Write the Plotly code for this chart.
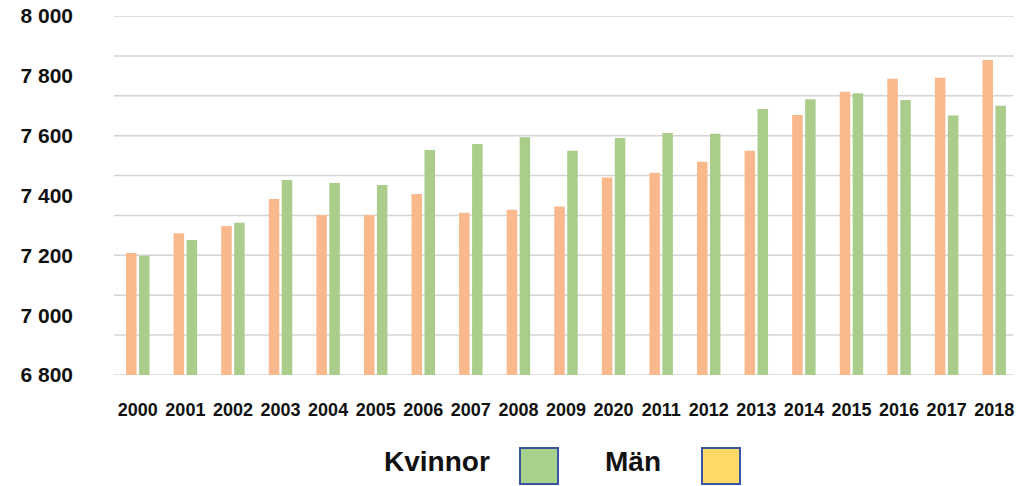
import plotly.graph_objects as go

years = ["2000", "2001", "2002", "2003", "2004", "2005", "2006", "2007", "2008", "2009",
         "2020", "2011", "2012", "2013", "2014", "2015", "2016", "2017", "2018"]
man = [7208, 7274, 7298, 7388, 7335, 7335, 7405, 7342, 7352, 7363,
       7460, 7476, 7513, 7550, 7669, 7747, 7790, 7794, 7853]
kvinnor = [7199, 7251, 7309, 7452, 7442, 7435, 7552, 7572, 7595, 7550,
           7592, 7609, 7606, 7689, 7722, 7742, 7719, 7667, 7700]
y_label_vals = [6800, 7000, 7200, 7400, 7600, 7800, 8000]
y_label_text = ["6 800", "7 000", "7 200", "7 400", "7 600", "7 800", "8 000"]
y_min, y_max, n_grid = 6800, 8000, 9
grid_vals = [y_min + i * (y_max - y_min) / n_grid for i in range(n_grid + 1)]

# the page body margin is removed (see post_script), so the figure fills the window
W, H = 1021, 486
plot_left, plot_right, plot_top, plot_bottom = 114, 1018, 16, 375
ml, mr, mt, mb = plot_left, W - plot_right, plot_top, H - plot_bottom
pw, ph = W - ml - mr, H - mt - mb

def px(x):
    return (x - plot_left) / pw

def py(y):
    return (plot_bottom - y) / ph

fig = go.Figure()
fig.add_trace(go.Bar(x=years, y=man, name="Män", marker_color="#F9B98C", marker_line_width=0))
fig.add_trace(go.Bar(x=years, y=kvinnor, name="Kvinnor", marker_color="#AACD8C", marker_line_width=0))

font_fam = "Liberation Sans, Arial, sans-serif"
fig.update_layout(
    width=W, height=H,
    margin=dict(l=ml, r=mr, t=mt, b=mb, autoexpand=False),
    paper_bgcolor="white", plot_bgcolor="white",
    barmode="group", bargap=0.455, bargroupgap=0.19,
    showlegend=False,
    font=dict(family=font_fam, color="#111111"),
    xaxis=dict(showgrid=False, showline=False, ticks="", ticklabelstandoff=22, automargin=False,
               ticklabeloverflow="allow",
               tickfont=dict(size=18, family=font_fam, weight="bold", color="#111111")),
    yaxis=dict(range=[y_min, y_max], tickmode="array", tickvals=y_label_vals, ticktext=y_label_text,
               showgrid=False, zeroline=False, showline=False, ticks="", ticklabelstandoff=40,
               automargin=False, ticklabeloverflow="allow",
               tickfont=dict(size=21, family=font_fam, weight="bold", color="#111111")),
)

# horizontal gridlines (9 equal intervals across the value range)
for gv in grid_vals:
    fig.add_shape(type="line", xref="paper", yref="y", x0=0, x1=0.995, y0=gv, y1=gv,
                  layer="below", line=dict(color="#D4D4D4", width=1.5))

# custom legend: text followed by square
legend_items = [("Kvinnor", "#A9D18E", 492, 520), ("Män", "#FFD966", 663, 702)]
for label, color, text_right, sq_left in legend_items:
    fig.add_annotation(x=px(text_right), y=py(462), xref="paper", yref="paper",
                       text=label, showarrow=False, xanchor="right", yanchor="middle",
                       font=dict(size=28, family=font_fam, weight="bold", color="#111111"))
    fig.add_shape(type="rect", xref="paper", yref="paper",
                  x0=px(sq_left), x1=px(sq_left + 38), y0=py(448), y1=py(484),
                  fillcolor=color, line=dict(color="#3A54A4", width=2))

fig.write_html("out.html", config={"displayModeBar": False},
               post_script="document.body.style.margin='0';document.body.style.overflow='hidden';")
